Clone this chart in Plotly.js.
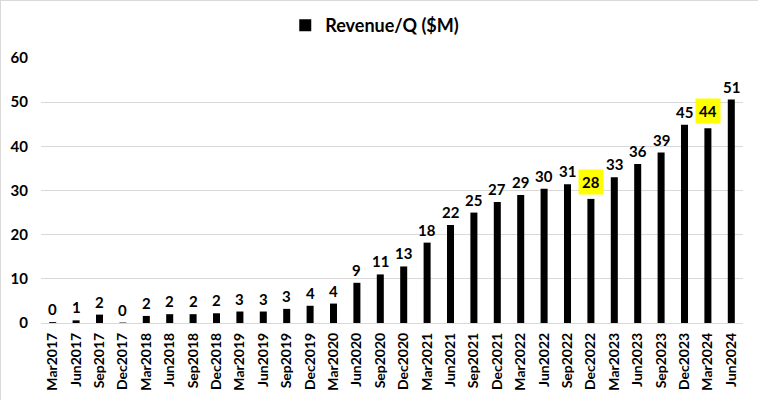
<!DOCTYPE html>
<html><head><meta charset="utf-8">
<script src="https://cdn.plot.ly/plotly-3.0.1.min.js"></script>
<style>html,body{margin:0;padding:0;background:#fff}#c{width:758px;height:400px;box-sizing:border-box;border:1px solid #d9d9d9}</style>
</head><body><div id="c"></div>
<script>
var categories = ["Mar2017","Jun2017","Sep2017","Dec2017","Mar2018","Jun2018","Sep2018","Dec2018","Mar2019","Jun2019","Sep2019","Dec2019","Mar2020","Jun2020","Sep2020","Dec2020","Mar2021","Jun2021","Sep2021","Dec2021","Mar2022","Jun2022","Sep2022","Dec2022","Mar2023","Jun2023","Sep2023","Dec2023","Mar2024","Jun2024"];
var revenue = [0.2,0.6,1.9,0.1,1.6,2.0,2.0,2.2,2.6,2.6,3.2,3.9,4.4,9.1,11.0,12.8,18.2,22.2,25.0,27.4,29.0,30.4,31.4,28.1,33.0,36.0,38.6,44.9,44.1,50.6];
var labels = ["0","1","2","0","2","2","2","2","3","3","3","4","4","9","11","13","18","22","25","27","29","30","31","28","33","36","39","45","44","51"];
var highlighted = ["Dec2022","Mar2024"];
var seriesName = "Revenue/Q ($M)";
var yTicks = [0,10,20,30,40,50,60];

var FONT = "Lato, 'Open Sans', sans-serif";
var annotations = categories.map(function(c,i){
  var hl = highlighted.indexOf(c) >= 0;
  return {x:c, y:revenue[i], text:labels[i], xref:'x', yref:'y', showarrow:false,
    yanchor:'bottom', yshift: hl ? 4 : 3,
    font:{family:FONT, size:15, color:'#000', weight:'bold'},
    bgcolor: hl ? '#ffff00' : 'rgba(0,0,0,0)', borderpad: hl ? 3 : 0};
});

Plotly.newPlot('c', [{
  type:'bar', x:categories, y:revenue, name:seriesName,
  marker:{color:'#000000'}, showlegend:true
}], {
  width:758, height:400,
  margin:{l:40, r:16, t:57, b:78, pad:0},
  paper_bgcolor:'#fff', plot_bgcolor:'#fff',
  bargap:0.7,
  font:{family:FONT, color:'#000'},
  showlegend:true,
  legend:{orientation:'h', x:0.375, xref:'container', xanchor:'left', y:0.985, yref:'container', yanchor:'top',
    font:{family:FONT, size:18, color:'#000', weight:'bold'}},
  xaxis:{type:'category', tickangle:-90, tickfont:{family:FONT, size:14, weight:'bold', color:'#000'},
    showgrid:false, showline:false, ticks:'', ticklen:0, automargin:false, ticklabelstandoff:6},
  yaxis:{range:[0,60], tickvals:yTicks, showgrid:true, gridcolor:'#d9d9d9', gridwidth:1,
    zeroline:true, zerolinecolor:'#d9d9d9', showline:false, ticks:'',
    tickfont:{family:FONT, size:15, weight:'bold', color:'#000'}, automargin:false, ticklabelstandoff:12},
  annotations:annotations
}, {displayModeBar:false, staticPlot:true});
</script></body></html>
